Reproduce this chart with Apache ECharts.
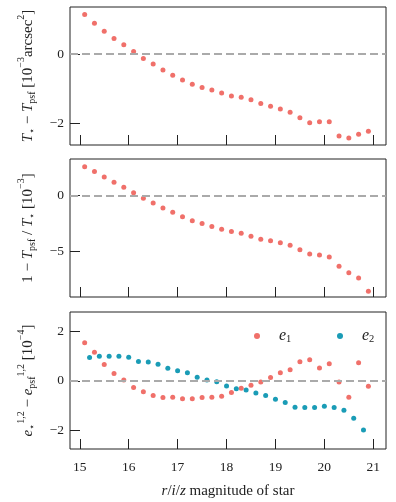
<!DOCTYPE html>
<html><head><meta charset="utf-8">
<script src="https://cdn.jsdelivr.net/npm/echarts@6/dist/echarts.min.js"></script>
<style>html,body{margin:0;padding:0;background:#fff}#c{width:396px;height:502px}</style>
</head><body><div id="c"></div>
<script>
// ---- data ----
const magsA = [15.1,15.3,15.5,15.7,15.9,16.1,16.3,16.5,16.7,16.9,17.1,17.3,17.5,17.7,17.9,18.1,18.3,18.5,18.7,18.9,19.1,19.3,19.5,19.7,19.9,20.1,20.3,20.5,20.7,20.9];
const magsB = [15.2,15.4,15.6,15.8,16.0,16.2,16.4,16.6,16.8,17.0,17.2,17.4,17.6,17.8,18.0,18.2,18.4,18.6,18.8,19.0,19.2,19.4,19.6,19.8,20.0,20.2,20.4,20.6,20.8];
const dT = [1.14,0.89,0.66,0.45,0.27,0.07,-0.13,-0.29,-0.46,-0.61,-0.75,-0.87,-0.97,-1.04,-1.13,-1.21,-1.25,-1.32,-1.43,-1.51,-1.59,-1.68,-1.84,-1.99,-1.96,-1.96,-2.37,-2.43,-2.32,-2.23];
const dTrel = [2.57,2.13,1.65,1.17,0.72,0.24,-0.27,-0.69,-1.14,-1.53,-1.92,-2.28,-2.54,-2.81,-3.05,-3.26,-3.41,-3.68,-3.95,-4.07,-4.25,-4.49,-4.88,-5.27,-5.36,-5.54,-6.38,-6.95,-7.43,-8.62];
const de1 = [1.55,1.16,0.67,0.30,0.04,-0.27,-0.44,-0.59,-0.68,-0.67,-0.73,-0.73,-0.68,-0.67,-0.63,-0.47,-0.30,-0.18,-0.05,0.14,0.33,0.45,0.78,0.86,0.52,0.70,-0.05,-0.67,0.74,-0.22];
const de2 = [0.95,1.00,1.00,1.00,0.96,0.79,0.77,0.68,0.51,0.41,0.33,0.15,0.04,-0.04,-0.21,-0.32,-0.37,-0.49,-0.59,-0.75,-0.88,-1.07,-1.08,-1.08,-1.03,-1.08,-1.19,-1.52,-2.00];
const xTicks = [15,16,17,18,19,20,21];
const yTicks1 = [-2,0];
const yTicks2 = [-5,0];
const yTicks3 = [-2,0,2];

// ---- styles ----
const RED = '#f0706a', TEAL = '#1a9cb6', INK = '#222';
const FONT = 'Liberation Serif';
const fmt = v => (v < 0 ? '\u2212' + Math.abs(v) : String(v));
const rich = {
  it: {fontStyle:'italic', fontSize:15, fontFamily:FONT, color:INK, verticalAlign:'middle', lineHeight:22},
  rm: {fontSize:15, fontFamily:FONT, color:INK, verticalAlign:'middle', lineHeight:22},
  sub: {fontSize:10, fontFamily:FONT, color:INK, verticalAlign:'bottom', lineHeight:9, padding:[0,0,1,0]},
  sup: {fontSize:10, fontFamily:FONT, color:INK, verticalAlign:'top', lineHeight:9}
};
const grids = [
  {left:70, right:10, top:7, height:138},
  {left:70, right:10, top:159, height:138},
  {left:70, right:10, top:312, height:137}
].map(g => Object.assign(g, {show:true, borderColor:INK, borderWidth:1, backgroundColor:'transparent', containLabel:false}));

function xAxis(i, showLabels) {
  return {
    type:'value', gridIndex:i, min:14.8, max:21.26,
    axisLine:{show:false, onZero:false},
    axisTick:{show:true, inside:true, length:10, lineStyle:{color:INK, width:1}, customValues:xTicks},
    axisLabel:{show:showLabels, customValues:xTicks, fontFamily:FONT, fontSize:13.5, color:INK, margin:11, formatter:fmt},
    splitLine:{show:false},
    name: showLabels ? '{it|r}{rm|/}{it|i}{rm|/}{it|z}{rm| magnitude of star}' : '',
    nameLocation:'middle', nameGap:31,
    nameTextStyle:{rich}
  };
}
function yAxis(i, min, max, ticks, name, gap) {
  return {
    type:'value', gridIndex:i, min, max,
    axisLine:{show:false, onZero:false},
    axisTick:{show:true, inside:true, length:10, lineStyle:{color:INK, width:1}, customValues:ticks},
    axisLabel:{customValues:ticks, fontFamily:FONT, fontSize:13.5, color:INK, margin:6, formatter:fmt},
    splitLine:{show:false},
    name, nameLocation:'middle', nameGap:gap, nameRotate:90,
    nameTextStyle:{rich}
  };
}
const zeroLine = i => ({
  type:'scatter', xAxisIndex:i, yAxisIndex:i, data:[], z:1, silent:true,
  markLine:{symbol:'none', silent:true, animation:false, label:{show:false},
    lineStyle:{color:'#aaaaaa', width:2, type:[8,4]}, data:[{yAxis:0}]}
});
const pts = (xs, ys) => xs.map((x, k) => [x, ys[k]]);
const scat = (i, name, xs, ys, color) => ({
  type:'scatter', name, xAxisIndex:i, yAxisIndex:i, data:pts(xs, ys), z:3,
  symbol:'circle', symbolSize:5, itemStyle:{color, opacity:1}, animation:false
});

const legendText = {fontFamily:FONT, color:INK, padding:[0,0,0,14], rich:{
  it:{fontStyle:'italic', fontSize:16, fontFamily:FONT, color:INK, verticalAlign:'middle', lineHeight:18},
  sub:{fontSize:10.5, fontFamily:FONT, color:INK, verticalAlign:'bottom', lineHeight:10}
}};

const option = {
  animation:false,
  grid: grids,
  xAxis:[xAxis(0,false), xAxis(1,false), xAxis(2,true)],
  yAxis:[
    yAxis(0, -2.63, 1.36, yTicks1, '{it|T}{sub|\u22c6}{rm| \u2212 }{it|T}{sub|psf}{rm| [10}{sup|\u22123}{rm|arcsec}{sup|2}{rm|]}', 31),
    yAxis(1, -9.13, 3.26, yTicks2, '{rm|1 \u2212 }{it|T}{sub|psf}{rm| / }{it|T}{sub|\u22c6}{rm| [10}{sup|\u22123}{rm|]}', 31),
    yAxis(2, -2.77, 2.8, yTicks3, '{it|e}{sub|\u22c6}{sup|1,2}{rm| \u2212 }{it|e}{sub|psf}{sup|1,2}{rm| [10}{sup|\u22124}{rm|]}', 31)
  ],
  legend:[
    {data:[{name:'e1', icon:'circle'}], left:249, top:323, itemWidth:6, itemHeight:6, selectedMode:false,
     formatter:() => '{it|e}{sub|1}', textStyle:legendText},
    {data:[{name:'e2', icon:'circle'}], left:332, top:323, itemWidth:6, itemHeight:6, selectedMode:false,
     formatter:() => '{it|e}{sub|2}', textStyle:legendText}
  ],
  series:[
    zeroLine(0), zeroLine(1), zeroLine(2),
    scat(0, 'dT', magsA, dT, RED),
    scat(1, 'dTrel', magsA, dTrel, RED),
    scat(2, 'e1', magsA, de1, RED),
    scat(2, 'e2', magsB, de2, TEAL)
  ]
};
const chart = echarts.init(document.getElementById('c'), null, {renderer:'canvas'});
chart.setOption(option);
</script>
</body></html>
